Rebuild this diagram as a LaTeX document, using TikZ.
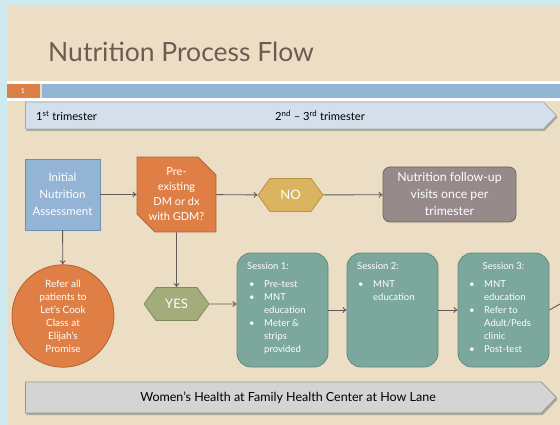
\documentclass[tikz,border=0pt]{standalone}
\usepackage{fontspec}
\setmainfont{Lato}
\usetikzlibrary{shapes.geometric,shapes.misc,shapes.symbols,shadows,arrows.meta}

\definecolor{bgcyan}{RGB}{206,234,238}
\definecolor{bgtan}{RGB}{236,222,197}
\definecolor{titlebrown}{RGB}{110,92,82}
\definecolor{barorange}{RGB}{221,128,71}
\definecolor{barblue}{RGB}{148,182,210}
\definecolor{bannerblue}{RGB}{213,223,235}
\definecolor{bannerline}{RGB}{160,170,180}
\definecolor{bannergray}{RGB}{212,212,212}
\definecolor{bannergrayline}{RGB}{150,150,150}
\definecolor{assessblue}{RGB}{147,180,212}
\definecolor{assessline}{RGB}{110,143,176}
\definecolor{decorange}{RGB}{223,127,69}
\definecolor{decline}{RGB}{176,98,50}
\definecolor{nogold}{RGB}{218,180,94}
\definecolor{noline}{RGB}{184,146,66}
\definecolor{followgray}{RGB}{150,139,138}
\definecolor{followline}{RGB}{110,100,98}
\definecolor{yesolive}{RGB}{163,172,123}
\definecolor{yesline}{RGB}{127,138,90}
\definecolor{teal}{RGB}{123,167,156}
\definecolor{tealline}{RGB}{94,138,126}
\definecolor{linkgray}{RGB}{95,90,85}

\tikzset{
  banner/.style={shape=signal, signal to=east, signal pointer angle=92,
    anchor=west, inner sep=0pt, line width=0.8pt,
    drop shadow={shadow xshift=1.2pt, shadow yshift=-2pt, opacity=0.45, fill=black!60}},
  flowbox/.style={draw, line width=0.8pt, text=white, align=center, inner sep=2pt,
    font=\fontsize{11.5}{17}\selectfont},
  hexnode/.style={shape=signal, signal to=west and east, signal pointer angle=108,
    draw, line width=0.8pt, text=white, inner sep=0pt,
    font=\fontsize{13}{14}\selectfont},
  sessionbox/.style={draw=tealline, fill=teal, line width=0.8pt, rounded corners=14pt,
    minimum width=91pt, minimum height=114pt, inner sep=0pt},
  sessiontext/.style={text=white, font=\fontsize{9.5}{13}\selectfont, inner sep=0pt,
    anchor=north west, align=left},
  link/.style={draw=linkgray, line width=0.9pt, -{To[length=4pt,width=6pt]}},
}

\newcommand{\bul}{\makebox[15pt][l]{\textbullet}}

\begin{document}
\begin{tikzpicture}[x=1pt,y=-1pt]
\useasboundingbox (0,0) rectangle (560,425);

% page background and header strips
\fill[bgcyan] (0,0) rectangle (560,425);
\fill[bgtan] (7,6) rectangle (560,425);
\fill[white] (7,81) rectangle (560,84);
\fill[barorange] (7,84) rectangle (40,98);
\fill[barblue] (42,84) rectangle (560,98);
\fill[white] (7,98) rectangle (560,101);
\node[text=white, font=\fontsize{7}{8}\selectfont, inner sep=0pt] (slideno) at (23,91) {1};

% title
\node[anchor=base west, text=titlebrown, font=\fontsize{26.5}{30}\selectfont, inner sep=0pt]
  (title) at (48,62) {Nutrition Process Flow};

% trimester banner
\node[banner, draw=bannerline, fill=bannerblue, minimum width=531pt, minimum height=27pt]
  (trimesters) at (25,115.5) {};
\node[anchor=west, font=\fontsize{11.2}{12}\selectfont, inner sep=0pt] (first) at (36,116)
  {1\textsuperscript{st} trimester};
\node[font=\fontsize{11.2}{12}\selectfont, inner sep=0pt] (later) at (320,116)
  {2\textsuperscript{nd} -- 3\textsuperscript{rd} trimester};

% clinic banner
\node[banner, draw=bannergrayline, fill=bannergray, minimum width=531pt, minimum height=31pt]
  (clinic) at (25,397.5) {};
\node[font=\fontsize{12.5}{14}\selectfont, inner sep=0pt] (clinictext) at (288,398)
  {Women's Health at Family Health Center at How Lane};

% flow nodes
\node[flowbox, draw=assessline, fill=assessblue, minimum width=75pt, minimum height=71pt]
  (assess) at (62.5,194.5) {Initial\\Nutrition\\Assessment};
\node[flowbox, shape=chamfered rectangle, chamfered rectangle corners={north east,south west},
  chamfered rectangle xsep=9pt, chamfered rectangle ysep=9pt,
  draw=decline, fill=decorange, minimum width=79pt, minimum height=71pt,
  font=\fontsize{11}{15}\selectfont]
  (preex) at (176.5,194.5) {Pre-\\existing\\DM or dx\\with GDM?};
\node[hexnode, draw=noline, fill=nogold, minimum width=65pt, minimum height=33pt]
  (no) at (290.5,195) {NO};
\node[flowbox, draw=followline, fill=followgray, rounded corners=7pt,
  minimum width=133pt, minimum height=55pt, font=\fontsize{12.3}{17}\selectfont]
  (follow) at (449.5,194.5) {Nutrition follow-up\\visits once per\\trimester};
\node[flowbox, shape=ellipse, draw=decline, fill=decorange, minimum width=102pt,
  minimum height=86pt, inner sep=0pt, font=\fontsize{10}{13}\selectfont]
  (cook) at (63,316) {Refer all\\patients to\\Let's Cook\\Class at\\Elijah's\\Promise};
\node[hexnode, draw=yesline, fill=yesolive, minimum width=65pt, minimum height=33pt]
  (yes) at (176.5,304) {YES};

% sessions
\node[sessionbox] (s1) at (282.5,310) {};
\node[sessionbox] (s2) at (392.5,310) {};
\node[sessionbox] (s3) at (503.5,310) {};

\node[sessiontext] (s1title) at (247,262) {Session 1:};
\node[sessiontext] (s1list) at (249,280) {%
  \bul Pre-test\\\bul MNT\\\bul education\\\bul Meter \&\\\bul strips\\\bul provided};
\node[sessiontext] (s2title) at (357,262) {Session 2:};
\node[sessiontext] (s2list) at (358,280) {\bul MNT\\\bul education};
\node[sessiontext, anchor=north] (s3title) at (503.5,262) {Session 3:};
\node[sessiontext] (s3list) at (469,280) {%
  \bul MNT\\\bul education\\\bul Refer to\\\bul Adult/Peds\\\bul clinic\\\bul Post-test};

% hide bullets on wrapped lines
\begin{scope}
\fill[teal] (247,306) rectangle (262,318);
\fill[teal] (247,332) rectangle (262,357);
\fill[teal] (356,293) rectangle (371,305);
\fill[teal] (467,293) rectangle (482,305);
\fill[teal] (467,319) rectangle (482,344);
\end{scope}

\coordinate (offpage) at (560,304);

% connectors
\draw[link] (assess) -- (preex);
\draw[link] (preex) -- (no);
\draw[link] (no) -- (follow);
\draw[link] (assess) -- (cook);
\draw[link] (preex) -- (yes);
\draw[link] (yes) -- (yes -| s1.west);
\draw[link] (s1) -- (s2);
\draw[link] (s2) -- (s3);
\draw[draw=linkgray, line width=0.9pt] (s3.east) -- (offpage);
\end{tikzpicture}
\end{document}
